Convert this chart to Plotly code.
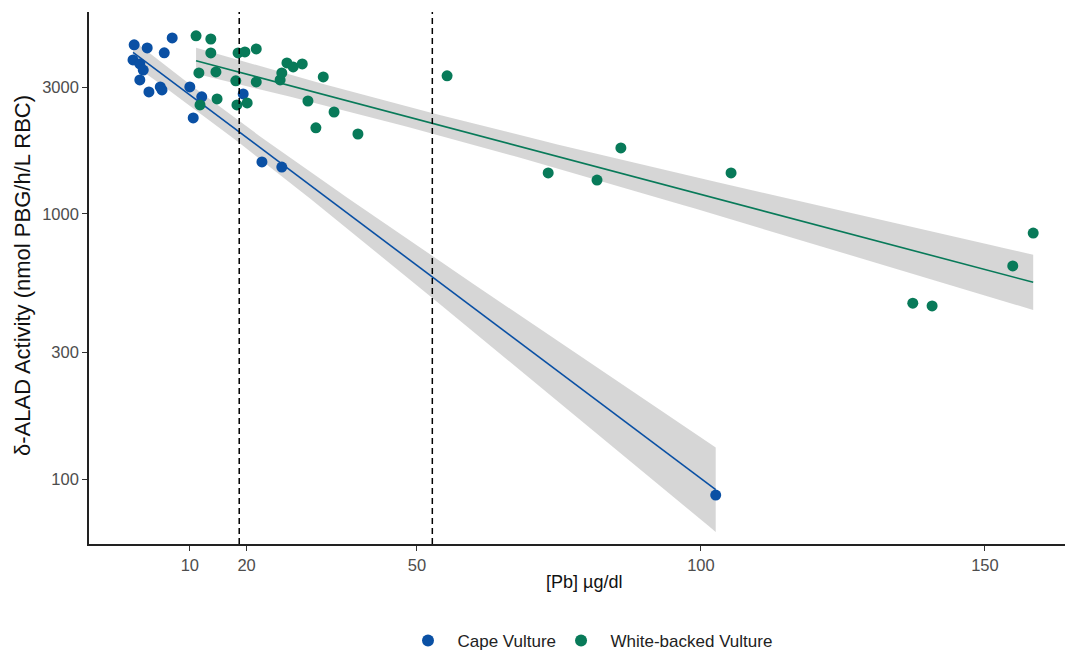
import numpy as np
import plotly.graph_objects as go

# Cape Vulture: Pb (µg/dl) and δ-ALAD activity
cape_pb = [0.2, 2.5, 6.9, 5.5, 0.0, 1.2, 1.8, 1.2, 2.8, 4.8, 5.1, 10.0, 12.1, 10.6, 19.4, 22.7, 26.2, 102.6]
cape_ala = [4345, 4230, 4613, 4055, 3811, 3681, 3492, 3205, 2886, 3015, 2937, 3015, 2767, 2303, 2838, 1571, 1503, 87]

# White-backed Vulture
wbv_pb = [11.1, 13.7, 13.7, 11.6, 14.6, 14.8, 11.8, 18.1, 18.5, 19.7, 21.7, 18.3, 20.1, 21.7,
          25.9, 27.1, 26.2, 28.2, 29.8, 33.5, 30.8, 35.4, 32.2, 39.6, 55.3, 73.1, 81.7, 85.9,
          105.3, 137.3, 140.7, 154.9, 158.5]
wbv_ala = [4701, 4572, 4052, 3404, 3433, 2716, 2578, 3178, 4052, 4087, 4195, 2578, 2623, 3150,
           3205, 3715, 3404, 3587, 3681, 3289, 2668, 2425, 2113, 2003, 3319, 1429, 1343, 1775,
           1429, 461, 450, 637, 847]

thresholds = [18.7, 52.7]
x_ticks = [10, 20, 50, 100, 150]
y_ticks = [100, 300, 1000, 3000]
series_names = ["Cape Vulture", "White-backed Vulture"]

CAPE_COL = "#0A50A4"
WBV_COL = "#087A59"


def t_quant(df, z=1.959964):
    return z + (z**3 + z) / (4 * df) + (5 * z**5 + 16 * z**3 + 3 * z) / (96 * df**2)


def fit_band(xs, ys):
    x = np.asarray(xs, float)
    y = np.log10(np.asarray(ys, float))
    b, a = np.polyfit(x, y, 1)
    n = len(x)
    resid = y - (a + b * x)
    s = np.sqrt(np.sum(resid**2) / (n - 2))
    xbar = x.mean()
    sxx = np.sum((x - xbar) ** 2)
    xg = np.linspace(x.min(), x.max(), 80)
    yg = a + b * xg
    se = s * np.sqrt(1 / n + (xg - xbar) ** 2 / sxx)
    t = t_quant(n - 2)
    return xg, 10**yg, 10**(yg - t * se), 10**(yg + t * se)


fig = go.Figure()

for xs, ys in [(cape_pb, cape_ala), (wbv_pb, wbv_ala)]:
    xg, yf, lo, hi = fit_band(xs, ys)
    fig.add_trace(go.Scatter(x=np.concatenate([xg, xg[::-1]]), y=np.concatenate([hi, lo[::-1]]),
                             fill="toself", fillcolor="rgba(153,153,153,0.4)", line=dict(width=0),
                             mode="lines", showlegend=False, hoverinfo="skip"))

for xs, ys, col in [(cape_pb, cape_ala, CAPE_COL), (wbv_pb, wbv_ala, WBV_COL)]:
    xg, yf, lo, hi = fit_band(xs, ys)
    fig.add_trace(go.Scatter(x=xg, y=yf, mode="lines", line=dict(color=col, width=1.6),
                             showlegend=False, hoverinfo="skip"))

pad = "\u00a0\u00a0"
fig.add_trace(go.Scatter(x=cape_pb, y=cape_ala, mode="markers", name=pad + series_names[0],
                         marker=dict(color=CAPE_COL, size=11)))
fig.add_trace(go.Scatter(x=wbv_pb, y=wbv_ala, mode="markers", name=pad + series_names[1],
                         marker=dict(color=WBV_COL, size=11)))

for t in thresholds:
    fig.add_shape(type="line", x0=t, x1=t, y0=0, y1=1, xref="x", yref="paper",
                  line=dict(color="black", width=1.5, dash="6px,4px"))

fig.update_layout(
    width=1065, height=651,
    margin=dict(l=89, r=0, t=12, b=107, autoexpand=False),
    plot_bgcolor="white", paper_bgcolor="white",
    font=dict(family="Liberation Sans, Arial, sans-serif", color="#4D4D4D", size=16),
    showlegend=True,
    legend=dict(orientation="h", x=(593 - 89) / 976, xanchor="center", y=(544 - 641) / 532,
                yanchor="middle", font=dict(size=17, color="#222222"), itemsizing="constant"),
    xaxis=dict(range=[-7.75, 164.1], tickvals=x_ticks, showgrid=False, zeroline=False,
               showline=True, linecolor="#222222", linewidth=1.6, ticks="outside", ticklen=5,
               tickcolor="#333333", tickfont=dict(size=16.5, color="#4D4D4D"), automargin=False),
    yaxis=dict(type="log", range=[np.log10(56.9), np.log10(5780)], tickvals=y_ticks,
               ticktext=[str(v) for v in y_ticks], showgrid=False, zeroline=False,
               showline=True, linecolor="#222222", linewidth=1.6, ticks="outside", ticklen=5,
               tickcolor="#333333", tickfont=dict(size=16.5, color="#4D4D4D"), automargin=False),
)

fig.add_annotation(text="δ-ALAD Activity (nmol PBG/h/L RBC)", xref="paper", yref="paper",
                   x=(22 - 89) / 976, y=(544 - 276) / 532, textangle=-90,
                   xanchor="center", yanchor="middle", showarrow=False,
                   font=dict(size=22, color="#111111"))
fig.add_annotation(text="[Pb] µg/dl", xref="paper", yref="paper", x=(584 - 89) / 976,
                   y=(544 - 582) / 532, xanchor="center", yanchor="middle", showarrow=False,
                   font=dict(size=18, color="#111111"))

fig.write_html("out.html", config={"displayModeBar": False},
               post_script="document.body.style.margin='0';document.body.style.overflow='hidden';")
